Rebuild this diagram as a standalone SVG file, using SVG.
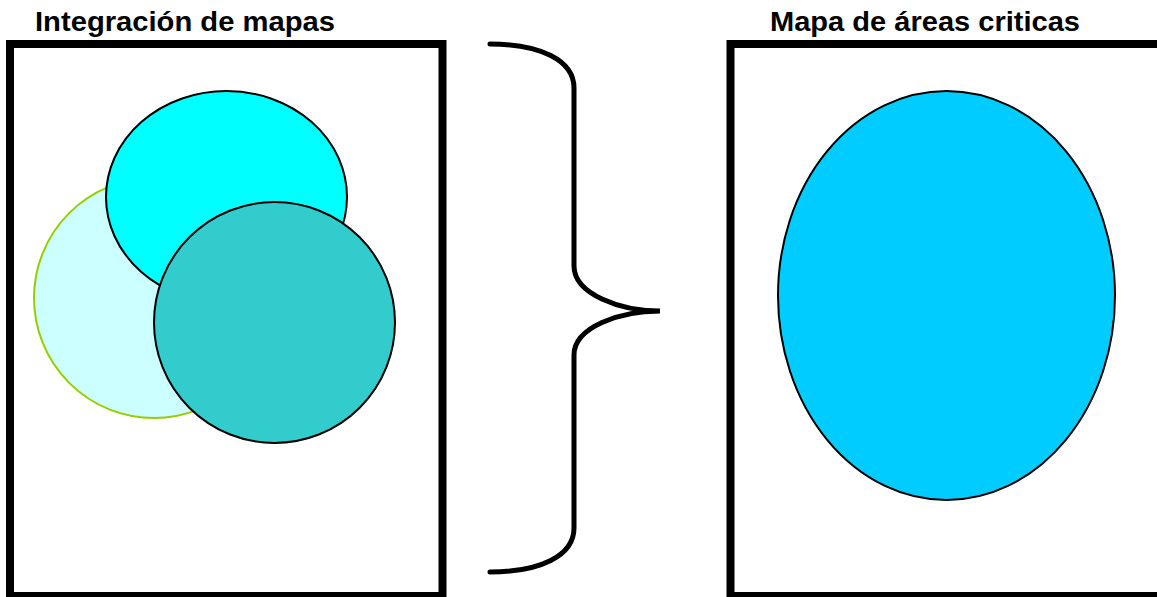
<svg xmlns="http://www.w3.org/2000/svg" width="1157" height="597" viewBox="0 0 1157 597">
  <style>
    .title { font-family: "Liberation Sans", Arial, sans-serif; font-weight: bold; font-size: 28px; fill: #000; }
    .frame { fill: #fff; stroke: #000; stroke-width: 8; }
    .shape { stroke: #000; stroke-width: 2; }
  </style>
  <rect width="1157" height="597" fill="#fff"/>

  <!-- Left panel: overlapping map layers -->
  <g id="integracion">
    <text class="title" x="35" y="31" textLength="300" lengthAdjust="spacingAndGlyphs">Integración de mapas</text>
    <rect class="frame" x="10" y="44" width="432.5" height="552"/>
    <circle cx="154" cy="298" r="120" fill="#CCFFFF" stroke="#99CC00" stroke-width="2"/>
    <ellipse class="shape" cx="226.5" cy="197" rx="120.5" ry="106" fill="#00FFFF"/>
    <circle class="shape" cx="274.5" cy="322.5" r="120.5" fill="#33CCCC"/>
  </g>

  <!-- Brace joining the two panels -->
  <g id="connectors">
    <path d="M490,44 C540,44 574,60 574,88 L574,266 C574,294 620,311 660,311 C620,311 574,327 574,355 L574,528 C574,556 540,572 490,572"
          fill="none" stroke="#000" stroke-width="5" stroke-linecap="round"/>
  </g>

  <!-- Right panel: resulting critical area -->
  <g id="areas-criticas">
    <text class="title" x="770" y="31" textLength="310" lengthAdjust="spacingAndGlyphs">Mapa de áreas criticas</text>
    <rect class="frame" x="730.5" y="44" width="450" height="552"/>
    <ellipse class="shape" cx="946.5" cy="295.5" rx="168.5" ry="204.5" fill="#00CCFF"/>
  </g>
</svg>
